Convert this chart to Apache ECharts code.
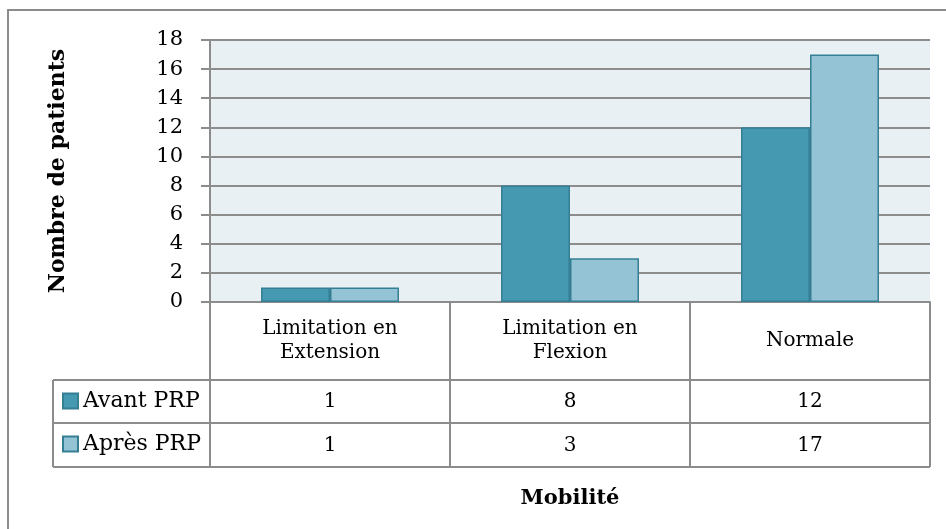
<!DOCTYPE html>
<html>
<head>
<meta charset="utf-8">
<script src="https://cdn.jsdelivr.net/npm/echarts@6/dist/echarts.min.js"></script>
<style>
  html, body { margin: 0; padding: 0; background: #fff; }
  #grafico { width: 946px; height: 529px; }
</style>
</head>
<body>
<div id="grafico"></div>
<script>
var categorias = ['Limitation en\nExtension', 'Limitation en\nFlexion', 'Normale'];
var avantPRP = [1, 8, 12];
var apresPRP = [1, 3, 17];
var ticksY = [0, 2, 4, 6, 8, 10, 12, 14, 16, 18];

var fonte = 'DejaVu Serif';
var cinza = '#8c8c8c';

var myChart = echarts.init(document.getElementById('grafico'));

// linhas da tabela de dados (abaixo do gráfico)
var linhas = [
    [210, 302, 210, 467], [450, 302, 450, 467], [690, 302, 690, 467], [930, 302, 930, 467],
    [53, 380, 53, 467],
    [53, 380, 930, 380], [53, 423, 930, 423], [53, 467, 930, 467]
];
var graficos = linhas.map(function (l) {
    return {
        type: 'line',
        shape: { x1: l[0], y1: l[1], x2: l[2], y2: l[3] },
        style: { stroke: cinza, lineWidth: 2 },
        z: 10
    };
});
graficos.push({
    type: 'rect',
    shape: { x: 8, y: 10, width: 960, height: 540 },
    style: { fill: 'none', stroke: cinza, lineWidth: 2 }
});

var option = {
    animation: false,
    textStyle: { fontFamily: fonte },
    graphic: graficos,
    grid: {
        left: 210, top: 40, width: 720, height: 262,
        show: true, backgroundColor: '#e9f0f4', borderWidth: 0
    },
    legend: {
        orient: 'vertical',
        left: 57, top: 385,
        icon: 'rect',
        itemWidth: 15, itemHeight: 15, itemGap: 21,
        textStyle: { fontFamily: fonte, fontSize: 22, color: '#000' },
        data: ['Avant PRP', 'Après PRP']
    },
    xAxis: [{
        type: 'category',
        data: categorias,
        position: 'bottom',
        axisLine: { show: true, lineStyle: { color: cinza, width: 2 } },
        axisTick: { show: false },
        axisLabel: {
            interval: 0, margin: 39, verticalAlign: 'middle',
            fontFamily: fonte, fontSize: 20, lineHeight: 24, color: '#000'
        }
    }, {
        type: 'category',
        data: categorias,
        position: 'bottom',
        axisLine: { show: false },
        axisTick: { show: false },
        axisLabel: {
            interval: 0, margin: 100, verticalAlign: 'middle',
            fontFamily: fonte, fontSize: 20, color: '#000',
            formatter: function (v, i) { return String(avantPRP[i]); }
        }
    }, {
        type: 'category',
        data: categorias,
        position: 'bottom',
        axisLine: { show: false },
        axisTick: { show: false },
        axisLabel: {
            interval: 0, margin: 144, verticalAlign: 'middle',
            fontFamily: fonte, fontSize: 20, color: '#000',
            formatter: function (v, i) { return String(apresPRP[i]); }
        },
        name: 'Mobilité',
        nameLocation: 'middle',
        nameGap: 186,
        nameTextStyle: { fontFamily: fonte, fontSize: 21, fontWeight: 'bold', color: '#000' }
    }],
    yAxis: {
        type: 'value',
        min: ticksY[0], max: ticksY[ticksY.length - 1], interval: 2,
        name: 'Nombre de patients',
        nameLocation: 'middle',
        nameGap: 141,
        nameTextStyle: { fontFamily: fonte, fontSize: 22, fontWeight: 'bold', color: '#000' },
        axisLine: { show: true, lineStyle: { color: cinza, width: 2 } },
        axisTick: { show: true, length: 9, lineStyle: { color: cinza, width: 2 } },
        axisLabel: { margin: 27, fontFamily: fonte, fontSize: 21, color: '#000' },
        splitLine: { show: true, lineStyle: { color: cinza, width: 2 } }
    },
    series: [{
        name: 'Avant PRP',
        type: 'bar',
        data: avantPRP,
        barWidth: 69,
        barGap: '0%',
        itemStyle: { color: '#4599b0', borderColor: '#357f94', borderWidth: 1.5 }
    }, {
        name: 'Après PRP',
        type: 'bar',
        data: apresPRP,
        barWidth: 69,
        barGap: '0%',
        itemStyle: { color: '#93c3d4', borderColor: '#357f94', borderWidth: 1.5 }
    }]
};

myChart.setOption(option);
</script>
</body>
</html>
